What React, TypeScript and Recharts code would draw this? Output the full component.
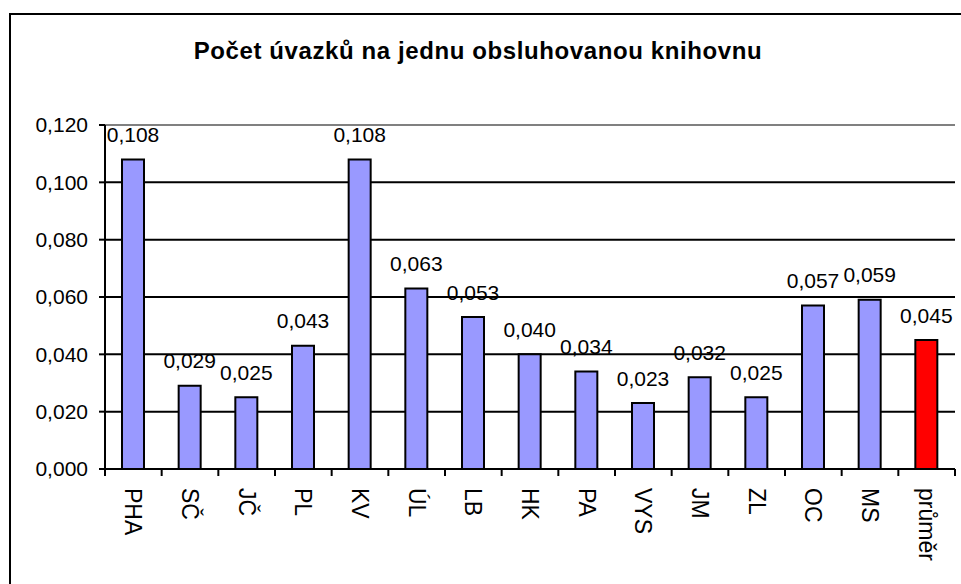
import { BarChart, Bar, XAxis, YAxis, CartesianGrid, Cell, LabelList, ReferenceLine } from 'recharts'

const categories = ['PHA', 'SČ', 'JČ', 'PL', 'KV', 'ÚL', 'LB', 'HK', 'PA', 'VYS', 'JM', 'ZL', 'OC', 'MS', 'průměr']
const values = [0.108, 0.029, 0.025, 0.043, 0.108, 0.063, 0.053, 0.040, 0.034, 0.023, 0.032, 0.025, 0.057, 0.059, 0.045]
const yTicks = [0, 0.02, 0.04, 0.06, 0.08, 0.1, 0.12]
const averageLabel = 'průměr'

const W = 961
const H = 584
const X_HEIGHT = 115
const Y_WIDTH = 105
const M = { top: 125, right: 6, bottom: 0, left: 0 }
const FONT = '"Liberation Sans", Arial, sans-serif'

const data = categories.map((name, i) => ({ name, value: values[i] }))
const bandWidth = (W - M.right - Y_WIDTH) / categories.length

const fmt = (v: number) => v.toFixed(3).replace('.', ',')

function XTick(props: any) {
  const { x, y, payload, index } = props
  const last = index === categories.length - 1
  return (
    <g>
      <line x1={x - bandWidth / 2} x2={x - bandWidth / 2} y1={y - 8} y2={y - 1} stroke="#000" strokeWidth={2} />
      {last && <line x1={x + bandWidth / 2} x2={x + bandWidth / 2} y1={y - 8} y2={y - 1} stroke="#000" strokeWidth={2} />}
      <text
        x={x}
        y={y + 11}
        transform={`rotate(90 ${x} ${y + 11})`}
        textAnchor="start"
        dominantBaseline="central"
        fontSize={23}
        fontFamily={FONT}
        fill="#000"
      >
        {payload.value}
      </text>
    </g>
  )
}

function ValueLabel(props: any) {
  const { x, y, width, value } = props
  return (
    <text
      x={x + width / 2}
      y={y - 25}
      textAnchor="middle"
      dominantBaseline="central"
      fontSize={21}
      fontFamily={FONT}
      fill="#000"
    >
      {fmt(value)}
    </text>
  )
}

export default function App() {
  return (
    <div style={{ position: 'relative', width: W, height: H, background: '#fff', fontFamily: FONT }}>
      <style>{'body{margin:0}'}</style>
      <div
        style={{
          position: 'absolute',
          left: 9,
          top: 13,
          right: 0,
          bottom: 0,
          borderLeft: '2px solid #000',
          borderTop: '2px solid #000',
        }}
      />
      <div
        style={{
          position: 'absolute',
          left: 0,
          width: 956,
          top: 37,
          textAlign: 'center',
          fontWeight: 'bold',
          fontSize: 24,
          letterSpacing: 0.6,
        }}
      >
        Počet úvazků na jednu obsluhovanou knihovnu
      </div>
      <div style={{ position: 'absolute', left: 0, top: 0 }}>
        <BarChart width={W} height={H} data={data} margin={M} barCategoryGap={0}>
          <CartesianGrid horizontal vertical={false} stroke="#000" strokeWidth={2} />
          <ReferenceLine y={0.12} stroke="#808080" strokeWidth={2} />
          <XAxis
            dataKey="name"
            interval={0}
            tickLine={false}
            axisLine={{ stroke: '#000', strokeWidth: 2 }}
            tick={<XTick />}
            height={X_HEIGHT}
          />
          <YAxis
            domain={[0, 0.12]}
            ticks={yTicks}
            width={Y_WIDTH}
            tickFormatter={fmt}
            tickSize={6}
            tickLine={{ stroke: '#000', strokeWidth: 2 }}
            axisLine={{ stroke: '#000', strokeWidth: 2 }}
            tick={{ fontSize: 21, fill: '#000', fontFamily: FONT }}
            tickMargin={11}
          />
          <YAxis
            yAxisId="edge"
            orientation="right"
            width={0}
            tick={false}
            tickLine={false}
            axisLine={{ stroke: '#808080', strokeWidth: 2 }}
          />
          <Bar dataKey="value" barSize={22} stroke="#000" strokeWidth={2} isAnimationActive={false}>
            {data.map((d) => (
              <Cell key={d.name} fill={d.name === averageLabel ? '#FF0000' : '#9999FF'} />
            ))}
            <LabelList dataKey="value" content={<ValueLabel />} />
          </Bar>
        </BarChart>
      </div>
    </div>
  )
}
